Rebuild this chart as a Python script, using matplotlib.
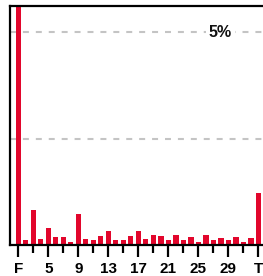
import matplotlib
matplotlib.use("Agg")
import matplotlib.pyplot as plt
from matplotlib.transforms import blended_transform_factory

plt.rcParams["font.family"] = ["Liberation Sans", "DejaVu Sans"]
plt.rcParams["lines.scale_dashes"] = False

# share (%) per position; first bar runs past the top of the axis
positions = list(range(1, 34))
shares = [6.5, 0.12, 0.83, 0.14, 0.40, 0.19, 0.19, 0.08, 0.73, 0.14,
          0.11, 0.21, 0.33, 0.12, 0.11, 0.21, 0.33, 0.14, 0.24, 0.22,
          0.11, 0.24, 0.11, 0.19, 0.07, 0.24, 0.11, 0.17, 0.11, 0.19,
          0.07, 0.17, 1.23]
major_ticks = [1, 5, 9, 13, 17, 21, 25, 29, 33]
major_labels = ["F", "5", "9", "13", "17", "21", "25", "29", "T"]
minor_ticks = [3, 7, 11, 15, 19, 23, 27, 31]
grid_levels = [2.5, 5]
grid_label = "5%"

fig = plt.figure(figsize=(2.63, 2.76), dpi=100)
ax = fig.add_axes([0.038, 0.112, 0.962, 0.866])

ax.bar(positions, shares, width=0.67, color="#e2062c", zorder=2)

for level in grid_levels:
    ax.axhline(level, color="#c4c4c4", lw=1.5, dashes=(4.3, 5.0), zorder=1)

trans = blended_transform_factory(ax.transAxes, ax.transData)
ax.text(0.832, 5, grid_label, transform=trans, ha="center", va="center",
        fontsize=11.5, fontweight="bold", color="#111111", zorder=3,
        bbox=dict(facecolor="white", edgecolor="none", pad=2))

ax.set_xlim(-0.13, 33.6)
ax.set_ylim(0, 5.61)

ax.set_xticks(major_ticks)
ax.set_xticklabels(major_labels, fontsize=11, fontweight="bold")
ax.set_xticks(minor_ticks, minor=True)
ax.tick_params(axis="x", which="major", length=8.5, width=1.6, pad=4,
               color="black")
ax.tick_params(axis="x", which="minor", length=6, width=1.6, color="black")
ax.set_yticks([])

for side in ["left", "bottom", "top"]:
    ax.spines[side].set_linewidth(1.6)
    ax.spines[side].set_color("black")
ax.spines["right"].set_visible(False)

fig.savefig("out.png", dpi=100)
